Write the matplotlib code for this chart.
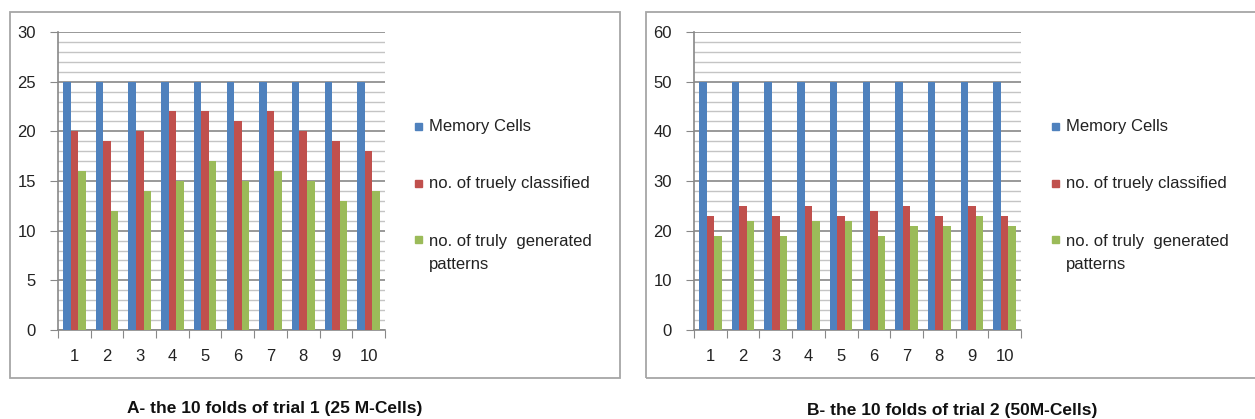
import matplotlib
matplotlib.use("Agg")
import matplotlib.pyplot as plt
import numpy as np
from matplotlib.patches import Rectangle

folds = [1, 2, 3, 4, 5, 6, 7, 8, 9, 10]
series_names = ["Memory Cells", "no. of truely classified", "no. of truly  generated\npatterns"]
colors = ["#4F81BD", "#C0504D", "#9BBB59"]

a_memory = [25, 25, 25, 25, 25, 25, 25, 25, 25, 25]
a_classified = [20, 19, 20, 22, 22, 21, 22, 20, 19, 18]
a_generated = [16, 12, 14, 15, 17, 15, 16, 15, 13, 14]

b_memory = [50, 50, 50, 50, 50, 50, 50, 50, 50, 50]
b_classified = [23, 25, 23, 25, 23, 24, 25, 23, 25, 23]
b_generated = [19, 22, 19, 22, 22, 19, 21, 21, 23, 21]

title_a = "A- the 10 folds of trial 1 (25 M-Cells)"
title_b = "B- the 10 folds of trial 2 (50M-Cells)"

W, H = 1255, 419
fig = plt.figure(figsize=(W / 100, H / 100), dpi=100)
plt.rcParams['font.family'] = ['Liberation Sans', 'DejaVu Sans']

def fx(px):
    return px / W

def fy(py):
    return 1 - py / H

def panel(box_l, box_r, ax_l, ymax, major, minor, data, legend_x, title, title_x, title_y):
    fig.patches.append(Rectangle((fx(box_l), fy(378)), fx(box_r - box_l), (378 - 12) / H,
                                 transform=fig.transFigure, fill=False,
                                 edgecolor="#a6a6a6", linewidth=1.3))
    ax = fig.add_axes([fx(ax_l), fy(330), fx(327), 298 / H])
    x = np.array(folds)
    bw = 0.23
    for i, (vals, c) in enumerate(zip(data, colors)):
        ax.bar(x + (i - 1) * bw, vals, width=bw, color=c, zorder=3, linewidth=0)
    ax.set_xlim(0.5, 10.5)
    ax.set_ylim(0, ymax)
    ax.set_yticks(np.arange(0, ymax + 1, major))
    ax.set_yticks(np.arange(0, ymax + 0.1, minor), minor=True)
    ax.yaxis.grid(True, which='major', color="#888888", linewidth=1.2, zorder=0)
    ax.yaxis.grid(True, which='minor', color="#c4c4c4", linewidth=1.0, zorder=0)
    ax.set_xticks(np.arange(0.5, 11, 1))
    ax.set_xticklabels([])
    ax.set_xticks(x, minor=True)
    ax.set_xticklabels([str(f) for f in folds], minor=True)
    ax.tick_params(axis='x', which='major', length=6, color="#888888", direction='out')
    ax.tick_params(axis='x', which='minor', length=0, pad=14, labelsize=12, labelcolor="#222222")
    ax.tick_params(axis='y', which='major', length=6, color="#888888", labelsize=12,
                   labelcolor="#222222", pad=10)
    ax.tick_params(axis='y', which='minor', length=0)
    for s in ['top', 'right']:
        ax.spines[s].set_visible(False)
    for s in ['left', 'bottom']:
        ax.spines[s].set_color("#888888")
        ax.spines[s].set_linewidth(1.2)
    ax.set_facecolor('white')
    ax.set_axisbelow(True)
    rows = [126, 183, 240]
    for name, c, ry in zip(series_names, colors, rows):
        fig.patches.append(Rectangle((fx(legend_x), fy(ry + 3.5)), fx(7), 7 / H,
                                     transform=fig.transFigure, color=c))
        if '\n' in name:
            fig.text(fx(legend_x + 14), fy(ry - 6), name, fontsize=12, color="#222222",
                     va='top', ha='left', linespacing=1.65)
        else:
            fig.text(fx(legend_x + 14), fy(ry), name, fontsize=12, color="#222222",
                     va='center', ha='left')
    fig.text(fx(title_x), fy(title_y), title, fontsize=12.5, fontweight='bold',
             ha='center', va='center', color="#111111")
    return ax

panel(10, 620, 58, 30, 5, 1, [a_memory, a_classified, a_generated], 415, title_a, 275, 408)
panel(646, 1262, 694, 60, 10, 2, [b_memory, b_classified, b_generated], 1052, title_b, 952, 410)

fig.savefig("out.png", dpi=100)
